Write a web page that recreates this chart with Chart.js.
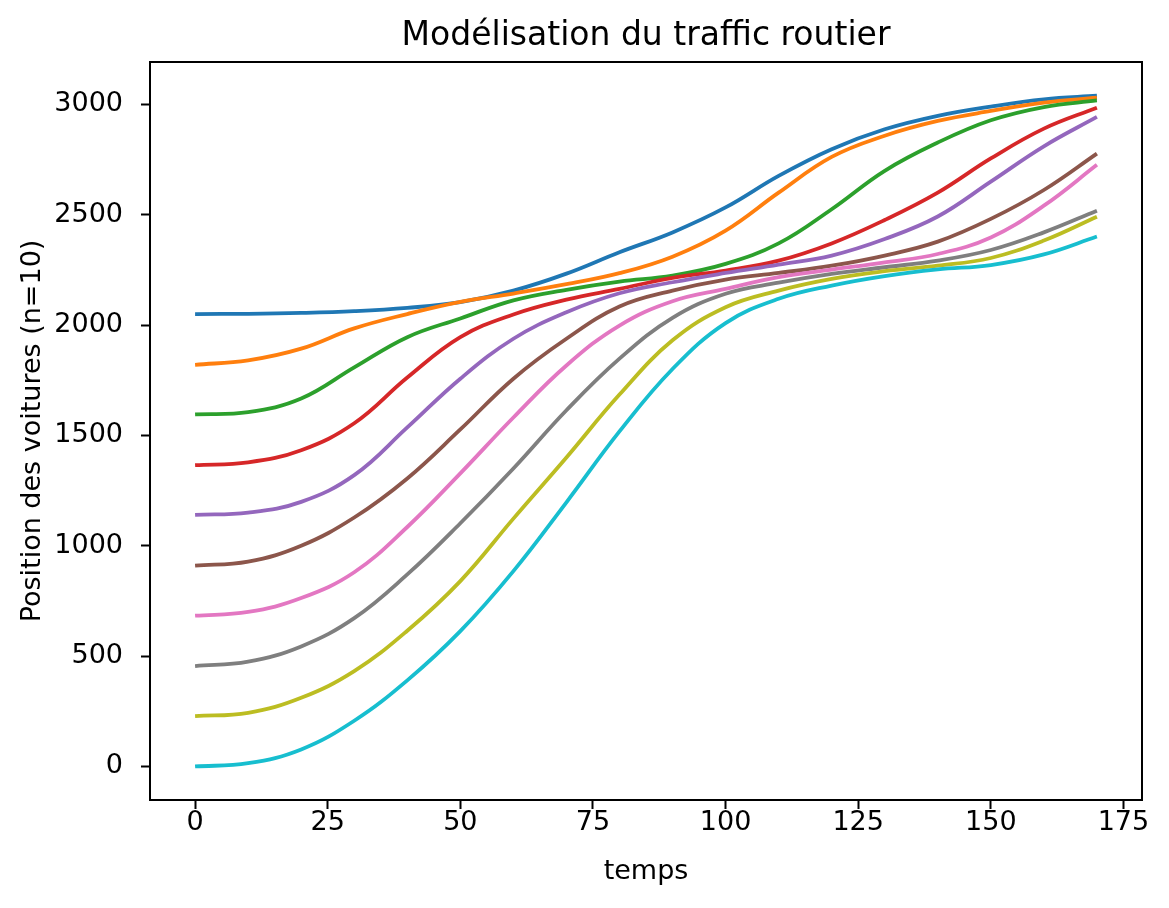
<!DOCTYPE html>
<html>
<head>
<meta charset="utf-8">
<script src="https://cdn.jsdelivr.net/npm/chart.js@4.4.1/dist/chart.umd.min.js"></script>
<style>
  body { margin: 0; background: #fff; }
</style>
</head>
<body>
<canvas id="trafficChart" width="1169" height="908"></canvas>
<script>
// temps (x) and positions of the 10 cars
const temps = [0, 10, 20, 30, 40, 50, 60, 70, 80, 90, 100, 110, 120, 130, 140, 150, 160, 170];

const voiture0 = [2050, 2051, 2055, 2063, 2078, 2104, 2156, 2233, 2330, 2420, 2533, 2676, 2797, 2887, 2948, 2990, 3023, 3039];
const voiture1 = [1820, 1840, 1893, 1985, 2050, 2105, 2143, 2185, 2235, 2310, 2428, 2600, 2762, 2858, 2925, 2970, 3008, 3030];
const voiture2 = [1595, 1605, 1667, 1808, 1945, 2030, 2112, 2160, 2197, 2224, 2277, 2370, 2525, 2699, 2827, 2928, 2988, 3018];
const voiture3 = [1365, 1378, 1433, 1555, 1762, 1945, 2048, 2115, 2164, 2214, 2247, 2292, 2370, 2476, 2600, 2755, 2890, 2985];
const voiture4 = [1140, 1150, 1199, 1320, 1536, 1757, 1938, 2058, 2144, 2194, 2236, 2274, 2315, 2390, 2492, 2650, 2810, 2943];
const voiture5 = [910, 928, 1000, 1128, 1305, 1527, 1757, 1938, 2084, 2156, 2206, 2236, 2269, 2315, 2378, 2481, 2612, 2777];
const voiture6 = [683, 700, 763, 880, 1085, 1328, 1581, 1817, 1998, 2108, 2164, 2217, 2251, 2284, 2322, 2397, 2541, 2726];
const voiture7 = [455, 475, 544, 672, 870, 1102, 1350, 1614, 1848, 2033, 2142, 2192, 2232, 2262, 2292, 2340, 2420, 2518];
const voiture8 = [228, 243, 311, 432, 615, 840, 1123, 1400, 1685, 1931, 2081, 2156, 2209, 2244, 2269, 2304, 2383, 2491];
const voiture9 = [0, 15, 77, 207, 390, 613, 885, 1197, 1518, 1801, 2009, 2119, 2179, 2222, 2252, 2272, 2320, 2401];

const xTicks = [0, 25, 50, 75, 100, 125, 150, 175];
const yTicks = [0, 500, 1000, 1500, 2000, 2500, 3000];
const titre = "Modélisation du traffic routier";

const voitures = [voiture0, voiture1, voiture2, voiture3, voiture4, voiture5, voiture6, voiture7, voiture8, voiture9];
const couleurs = ["#1f77b4", "#ff7f0e", "#2ca02c", "#d62728", "#9467bd", "#8c564b", "#e377c2", "#7f7f7f", "#bcbd22", "#17becf"];

// black box around the plot area + title centred over it (matplotlib style)
const frame = {
  id: "frame",
  afterDraw(chart) {
    const { ctx, chartArea: a } = chart;
    ctx.save();
    ctx.strokeStyle = "#000";
    ctx.lineWidth = 2;
    ctx.strokeRect(a.left, a.top, a.right - a.left, a.bottom - a.top);
    ctx.fillStyle = "#000";
    ctx.font = "33px 'DejaVu Sans'";
    ctx.textAlign = "center";
    ctx.textBaseline = "middle";
    ctx.fillText(titre, (a.left + a.right) / 2, 36);
    ctx.restore();
  }
};

const font = { family: "DejaVu Sans", size: 27 };

new Chart(document.getElementById("trafficChart"), {
  type: "line",
  data: {
    datasets: voitures.map((v, i) => ({
      label: "voiture " + i,
      data: temps.map((t, k) => ({ x: t, y: v[k] })),
      borderColor: couleurs[i],
      borderWidth: 3.8,
      pointRadius: 0,
      tension: 0.4,
      fill: false,
      order: voitures.length - i
    }))
  },
  options: {
    responsive: false,
    animation: false,
    devicePixelRatio: 1,
    layout: { padding: { left: 0, right: 27, top: 62, bottom: 0 } },
    plugins: {
      legend: { display: false },
      tooltip: { enabled: false },
      title: { display: false }
    },
    scales: {
      x: {
        type: "linear",
        min: -8.5,
        max: 178.5,
        afterBuildTicks: s => { s.ticks = xTicks.map(v => ({ value: v })); },
        afterFit: s => { s.height = 108; },
        grid: { drawOnChartArea: false, drawTicks: true, tickLength: 9, tickWidth: 2, tickColor: "#000" },
        border: { display: false },
        ticks: { color: "#000", font, padding: -2, maxRotation: 0, callback: v => String(v) },
        title: { display: true, text: "temps", color: "#000", font, padding: { top: 0, bottom: 20 } }
      },
      y: {
        type: "linear",
        min: -152,
        max: 3192,
        afterBuildTicks: s => { s.ticks = yTicks.map(v => ({ value: v })); },
        afterFit: s => { s.width = 150; },
        grid: { drawOnChartArea: false, drawTicks: true, tickLength: 9, tickWidth: 2, tickColor: "#000" },
        border: { display: false },
        ticks: { color: "#000", font, padding: 18, callback: v => String(v) },
        title: { display: true, text: "Position des voitures (n=10)", color: "#000", font, padding: { top: 17, bottom: 0 } }
      }
    }
  },
  plugins: [frame]
});
</script>
</body>
</html>
